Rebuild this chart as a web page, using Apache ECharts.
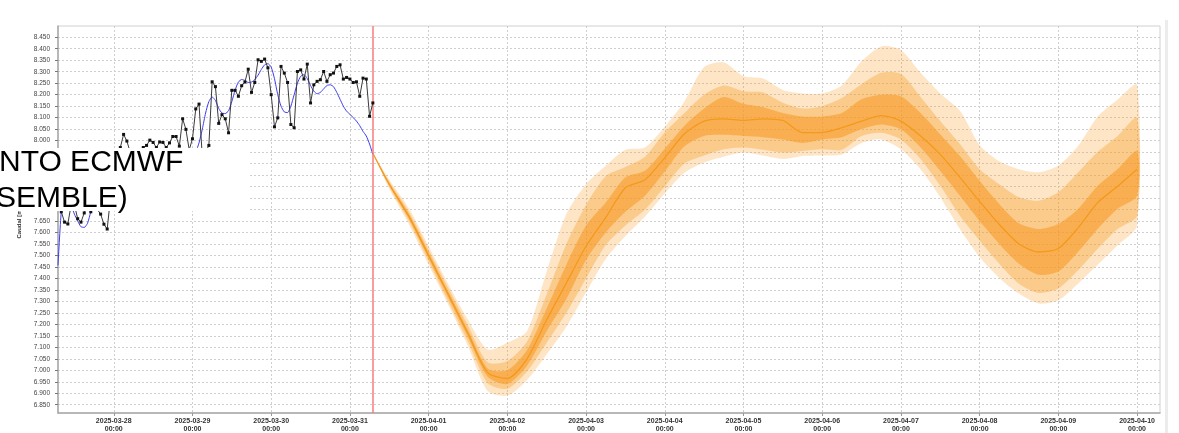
<!DOCTYPE html>
<html lang="es">
<head>
<meta charset="UTF-8">
<title>Caudal - pronóstico ECMWF ensemble</title>
<script src="https://cdn.jsdelivr.net/npm/echarts@6/dist/echarts.min.js"></script>
<style>
  html, body { margin: 0; padding: 0; background: #fff; }
  #chart { width: 1179px; height: 433px; }
</style>
</head>
<body>
<div id="chart"></div>
<script>
// observado y simulado: horario desde 2025-03-27 07:00 (UTC)
var obsValues = [7.72, 7.69, 7.645, 7.637, 7.72, 7.72, 7.66, 7.645, 7.685, 7.73, 7.69, 7.72, 7.70, 7.68, 7.636, 7.615,
  7.75, 7.85, 7.90, 7.97, 8.027, 7.998, 7.95, 7.92, 7.94, 7.96, 7.97, 7.979, 8.002, 7.992, 7.97, 7.994, 7.992, 7.97,
  7.99, 8.018, 8.018, 7.976, 8.095, 8.049, 7.96, 8.008, 8.138, 8.159, 7.93, 7.95, 7.979, 8.256, 8.235, 8.075, 8.113,
  8.095, 8.034, 8.219, 8.219, 8.193, 8.239, 8.255, 8.311, 8.21, 8.253, 8.352, 8.345, 8.355, 8.317, 8.20, 8.06, 8.099,
  8.323, 8.294, 8.253, 8.07, 8.056, 8.301, 8.308, 8.268, 8.333, 8.164, 8.243, 8.258, 8.265, 8.301, 8.258, 8.287,
  8.294, 8.323, 8.33, 8.268, 8.275, 8.268, 8.253, 8.256, 8.193, 8.272, 8.268, 8.106, 8.164];

var simValues = [7.457, 7.69, 7.76, 7.76, 7.72, 7.68, 7.65, 7.625, 7.622, 7.64, 7.69, 7.74, 7.78, 7.80, 7.81, 7.80,
  7.79, 7.79, 7.80, 7.83, 7.86, 7.88, 7.89, 7.89, 7.88, 7.87, 7.87, 7.88, 7.89, 7.90, 7.91, 7.92, 7.92, 7.92, 7.92,
  7.93, 7.94, 7.94, 7.93, 7.92, 7.91, 7.92, 7.95, 7.99, 8.05, 8.12, 8.17, 8.19, 8.175, 8.14, 8.12, 8.118, 8.13, 8.17,
  8.22, 8.255, 8.266, 8.262, 8.253, 8.255, 8.265, 8.285, 8.31, 8.33, 8.335, 8.32, 8.27, 8.20, 8.15, 8.125, 8.122,
  8.15, 8.20, 8.25, 8.28, 8.287, 8.27, 8.24, 8.215, 8.204, 8.21, 8.225, 8.24, 8.243, 8.235, 8.21, 8.18, 8.15, 8.128,
  8.115, 8.10, 8.085, 8.065, 8.04, 8.02, 7.985, 7.94];

// pronóstico ensemble
var fcTimes = ['2025-03-31T07:00', '2025-03-31T12:00', '2025-03-31T18:00',
  '2025-04-01T00:00', '2025-04-01T06:00', '2025-04-01T12:00', '2025-04-01T18:00',
  '2025-04-02T00:00', '2025-04-02T06:00', '2025-04-02T12:00', '2025-04-02T18:00',
  '2025-04-03T00:00', '2025-04-03T06:00', '2025-04-03T12:00', '2025-04-03T18:00',
  '2025-04-04T00:00', '2025-04-04T06:00', '2025-04-04T12:00', '2025-04-04T18:00',
  '2025-04-05T00:00', '2025-04-05T06:00', '2025-04-05T12:00', '2025-04-05T18:00',
  '2025-04-06T00:00', '2025-04-06T06:00', '2025-04-06T12:00', '2025-04-06T18:00',
  '2025-04-07T00:00', '2025-04-07T06:00', '2025-04-07T12:00', '2025-04-07T18:00',
  '2025-04-08T00:00', '2025-04-08T06:00', '2025-04-08T12:00', '2025-04-08T18:00',
  '2025-04-09T00:00', '2025-04-09T06:00', '2025-04-09T12:00', '2025-04-09T18:00',
  '2025-04-10T00:00'];
var fcMedian = [7.945, 7.81, 7.67, 7.50, 7.33, 7.16, 6.99, 6.965, 7.05, 7.22, 7.38, 7.54, 7.665, 7.795, 7.83, 7.925,
  8.03, 8.085, 8.095, 8.088, 8.095, 8.088, 8.035, 8.035, 8.056, 8.085, 8.109, 8.085, 8.02, 7.94, 7.84, 7.735, 7.635,
  7.55, 7.515, 7.53, 7.62, 7.73, 7.80, 7.875];
var outerHi = [7.945, 7.83, 7.705, 7.54, 7.375, 7.22, 7.09, 7.12, 7.17, 7.43, 7.68, 7.81, 7.89, 7.96, 7.97, 8.06,
  8.17, 8.32, 8.34, 8.28, 8.27, 8.22, 8.205, 8.205, 8.24, 8.345, 8.41, 8.395, 8.295, 8.205, 8.13, 7.98, 7.91, 7.875,
  7.862, 7.89, 7.976, 8.105, 8.178, 8.243];
var midHi = [7.945, 7.822, 7.69, 7.525, 7.358, 7.195, 7.035, 7.04, 7.125, 7.33, 7.55, 7.72, 7.845, 7.885, 7.93, 8.035,
  8.12, 8.20, 8.24, 8.215, 8.21, 8.165, 8.14, 8.15, 8.185, 8.245, 8.295, 8.29, 8.19, 8.085, 7.985, 7.875, 7.81, 7.753,
  7.738, 7.775, 7.861, 7.95, 8.019, 8.099];
var innerHi = [7.945, 7.815, 7.68, 7.512, 7.343, 7.175, 7.008, 7.00, 7.088, 7.27, 7.46, 7.63, 7.73, 7.84, 7.87, 7.965,
  8.065, 8.14, 8.19, 8.16, 8.145, 8.12, 8.105, 8.105, 8.12, 8.18, 8.20, 8.193, 8.12, 8.027, 7.933, 7.825, 7.724, 7.64,
  7.615, 7.637, 7.702, 7.803, 7.875, 7.955];
var innerLo = [7.945, 7.805, 7.66, 7.488, 7.317, 7.145, 6.972, 6.94, 7.02, 7.17, 7.31, 7.48, 7.60, 7.69, 7.76, 7.865,
  7.975, 8.02, 8.025, 8.02, 8.015, 8.005, 7.99, 8.005, 8.015, 8.05, 8.07, 8.049, 7.97, 7.868, 7.76, 7.65, 7.55, 7.464,
  7.416, 7.43, 7.515, 7.615, 7.702, 7.76];
var midLo = [7.945, 7.798, 7.65, 7.475, 7.30, 7.125, 6.945, 6.92, 6.995, 7.12, 7.25, 7.40, 7.545, 7.63, 7.70, 7.80,
  7.90, 7.935, 7.962, 7.97, 7.96, 7.948, 7.955, 7.962, 7.96, 8.02, 8.034, 8.005, 7.92, 7.803, 7.673, 7.565, 7.464,
  7.377, 7.337, 7.356, 7.435, 7.529, 7.615, 7.673];
var outerLo = [7.945, 7.79, 7.635, 7.46, 7.285, 7.105, 6.91, 6.89, 6.958, 7.07, 7.19, 7.34, 7.485, 7.585, 7.67, 7.77,
  7.86, 7.905, 7.93, 7.948, 7.935, 7.92, 7.933, 7.935, 7.94, 7.99, 8.005, 7.962, 7.875, 7.753, 7.615, 7.493, 7.402,
  7.334, 7.291, 7.305, 7.377, 7.459, 7.543, 7.63];

// ejes
var dayLabels = ['2025-03-28', '2025-03-29', '2025-03-30', '2025-03-31', '2025-04-01', '2025-04-02', '2025-04-03',
  '2025-04-04', '2025-04-05', '2025-04-06', '2025-04-07', '2025-04-08', '2025-04-09', '2025-04-10'];
var yTicks = [6.85, 6.90, 6.95, 7.00, 7.05, 7.10, 7.15, 7.20, 7.25, 7.30, 7.35, 7.40, 7.45, 7.50, 7.55, 7.60, 7.65,
  7.70, 7.75, 7.80, 7.85, 7.90, 7.95, 8.00, 8.05, 8.10, 8.15, 8.20, 8.25, 8.30, 8.35, 8.40, 8.45];

var HOUR = 3600 * 1000;
var obsStart = Date.UTC(2025, 2, 27, 7);
var xMin = obsStart;
var xMax = Date.UTC(2025, 3, 10, 7);
var dayTicks = dayLabels.map(function (d) { return Date.parse(d + 'T00:00:00Z'); });
var fcTs = fcTimes.map(function (t) { return Date.parse(t + ':00Z'); });

function hourly(vals) {
  return vals.map(function (v, i) { return [obsStart + i * HOUR, v]; });
}
function fc(vals) {
  return vals.map(function (v, i) { return [fcTs[i], v]; });
}

// banda como un solo polígono (lo -> hi) dibujado por el primer item
function band(name, lo, hi, color) {
  return {
    name: name, type: 'custom', silent: true, z: 1,
    data: lo.map(function (v, i) { return [fcTs[i], v, hi[i]]; }),
    encode: { x: 0, y: [1, 2] },
    renderItem: function (params, api) {
      if (params.dataIndexInside !== 0) return null;
      var n = params.dataInsideLength, top = [], bot = [];
      for (var i = 0; i < n; i++) {
        var t = api.value(0, i);
        top.push(api.coord([t, api.value(2, i)]));
        bot.push(api.coord([t, api.value(1, i)]));
      }
      return {
        type: 'polygon',
        shape: { points: top.concat(bot.reverse()), smooth: 0.25 },
        style: { fill: color, stroke: null }
      };
    }
  };
}

var chart = echarts.init(document.getElementById('chart'));

var option = {
  animation: false,
  backgroundColor: '#fff',
  grid: { left: 58, top: 26, right: 19, bottom: 18, show: true, borderColor: '#d0d0d0', borderWidth: 1 },
  xAxis: {
    type: 'value',
    min: xMin,
    max: xMax,
    axisLine: { lineStyle: { color: '#a8a8a8', width: 1.5 } },
    axisTick: { show: true, length: 3, customValues: dayTicks, lineStyle: { color: '#999' } },
    axisLabel: {
      customValues: dayTicks,
      fontSize: 7, color: '#333', fontWeight: 'bold', fontFamily: 'Liberation Sans, Arial',
      lineHeight: 8, margin: 4, hideOverlap: false,
      formatter: function (v) {
        var s = new Date(v).toISOString();
        return s.slice(0, 10) + '\n' + s.slice(11, 16);
      }
    },
    splitLine: { show: true, lineStyle: { color: '#cfcfcf', type: [2, 2], width: 1 } }
  },
  yAxis: {
    type: 'value',
    min: 6.814,
    max: 8.499,
    name: 'Caudal [m³/s]',
    nameLocation: 'middle',
    nameGap: 36,
    nameTextStyle: { fontSize: 6, color: '#333', fontWeight: 'bold', fontFamily: 'Liberation Sans, Arial' },
    axisLine: { show: true, lineStyle: { color: '#a8a8a8', width: 1.5 } },
    axisTick: { show: true, length: 3, customValues: yTicks, lineStyle: { color: '#777' } },
    axisLabel: {
      customValues: yTicks,
      fontSize: 6.5, color: '#444', fontFamily: 'Liberation Sans, Arial', margin: 8,
      formatter: function (v) { return v.toFixed(3); }
    },
    splitLine: { show: true, lineStyle: { color: '#cfcfcf', type: [2, 2], width: 1 } }
  },
  series: [
    band('p10-p90', outerLo, outerHi, 'rgba(247,152,29,0.25)'),
    band('p25-p75', midLo, midHi, 'rgba(247,152,29,0.34)'),
    band('p40-p60', innerLo, innerHi, 'rgba(247,152,29,0.53)'),
    {
      name: 'Mediana', type: 'line', data: fc(fcMedian), symbol: 'none', z: 3, smooth: 0.25,
      lineStyle: { color: '#f39a1c', width: 1.3 },
      markLine: {
        silent: true, symbol: ['none', 'none'], animation: false,
        label: { show: false },
        lineStyle: { color: '#fa7d7d', width: 1.5, type: 'solid' },
        data: [{ xAxis: fcTs[0] }]
      }
    }, {
      name: 'Simulado', type: 'line', data: hourly(simValues), symbol: 'none', z: 4, smooth: 0.2,
      lineStyle: { color: '#3c3cf2', width: 1 }
    }, {
      name: 'Observado', type: 'line', data: hourly(obsValues), z: 5,
      symbol: 'rect', symbolSize: 3, showSymbol: true,
      itemStyle: { color: '#111' },
      lineStyle: { color: '#3a3a3a', width: 1 }
    }
  ],
  graphic: [
    { type: 'rect', z: 100, shape: { x: 0, y: 148, width: 249, height: 63 }, style: { fill: '#fff' } },
    { type: 'text', z: 101, x: -1, y: 162.5,
      style: { text: 'NTO ECMWF', font: '30px "Liberation Sans", Arial', fill: '#000', verticalAlign: 'middle' } },
    { type: 'text', z: 101, x: -4, y: 199,
      style: { text: 'SEMBLE)', font: '30px "Liberation Sans", Arial', fill: '#000', verticalAlign: 'middle' } },
    { type: 'rect', z: 100, shape: { x: 1165, y: 20, width: 3, height: 413 }, style: { fill: '#ececec' } }
  ]
};

chart.setOption(option);
</script>
</body>
</html>
